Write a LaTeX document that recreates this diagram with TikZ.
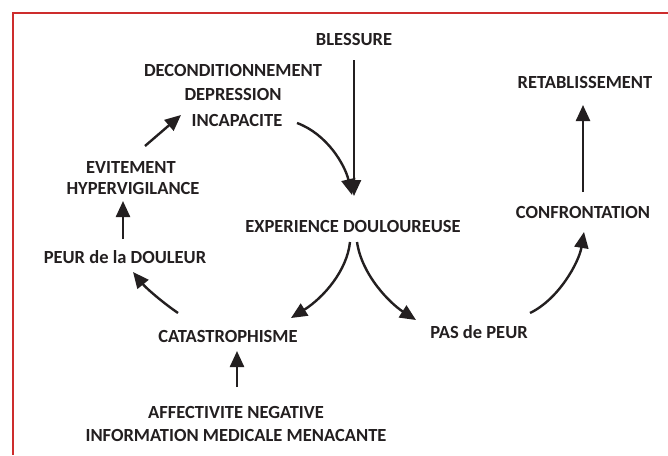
\documentclass[tikz,border=0pt]{standalone}
\usepackage{fontspec}
\setmainfont{Carlito}
\usetikzlibrary{arrows.meta,calc}
\definecolor{ink}{RGB}{35,31,32}
\definecolor{frame}{RGB}{205,45,45}
\begin{document}
\begin{tikzpicture}[x=1pt,y=-1pt,
  lbl/.style={font=\fontsize{18.5}{22}\selectfont\bfseries,text=ink,inner sep=0pt,align=center},
  arr/.style={draw=ink,line width=2.4pt,-{Triangle[length=16pt,width=14pt]}}]
\useasboundingbox (0,0) rectangle (668,455);
\fill[white] (0,0) rectangle (668,455);
\draw[frame,line width=2pt] (668,13) -- (12.5,13) -- (12.5,455);
\node[lbl] (bless) at (354,40) {BLESSURE};
\node[lbl] (decon) at (233,70) {DECONDITIONNEMENT};
\node[lbl] (depr) at (233,94) {DEPRESSION};
\node[lbl] (incap) at (237,120) {INCAPACITE};
\node[lbl] (evit) at (131,167) {EVITEMENT};
\node[lbl] (hyper) at (133,188) {HYPERVIGILANCE};
\node[lbl] (peur) at (125,257) {PEUR de la DOULEUR};
\node[lbl] (exp) at (353,226) {EXPERIENCE DOULOUREUSE};
\node[lbl] (cata) at (228,336) {CATASTROPHISME};
\node[lbl] (aff) at (236,412) {AFFECTIVITE NEGATIVE};
\node[lbl] (info) at (236,435) {INFORMATION MEDICALE MENACANTE};
\node[lbl] (pas) at (479,332) {PAS de PEUR};
\node[lbl] (conf) at (583,212) {CONFRONTATION};
\node[lbl] (ret) at (585,82) {RETABLISSEMENT};
% connectors
\draw[arr] ($(bless.center)+(0,20)$) -- ($(exp.center)+(1,-30)$);
\draw[arr] ($(incap.center)+(60,3)$) .. controls ($(incap.center)+(90,14)$) and ($(incap.center)+(108,45)$) .. ($(exp.center)+(-1,-31)$);
\draw[arr] ($(hyper.center)+(12,-42)$) -- ($(decon.center)+(-52,45)$);
\draw[arr] ($(peur.center)+(-2,-18)$) -- ($(hyper.center)+(-10,13)$);
\draw[arr] ($(cata.center)+(-50,-23)$) .. controls ($(cata.center)+(-66,-34)$) and ($(cata.center)+(-82,-48)$) .. ($(peur.center)+(8,15)$);
\draw[arr] ($(exp.center)+(-3,16)$) .. controls ($(exp.center)+(-6,45)$) and ($(exp.center)+(-30,72)$) .. ($(cata.center)+(63,-18)$);
\draw[arr] ($(exp.center)+(4,16)$) .. controls ($(exp.center)+(9,50)$) and ($(exp.center)+(38,78)$) .. ($(pas.center)+(-63,-12)$);
\draw[arr] ($(pas.center)+(51,-19)$) .. controls ($(pas.center)+(80,-33)$) and ($(pas.center)+(100,-70)$) .. ($(conf.center)+(1,20)$);
\draw[arr] ($(conf.center)+(0,-20)$) -- ($(ret.center)+(-2,23)$);
\draw[arr] ($(aff.center)+(1,-25)$) -- ($(cata.center)+(9,15)$);
\end{tikzpicture}
\end{document}
